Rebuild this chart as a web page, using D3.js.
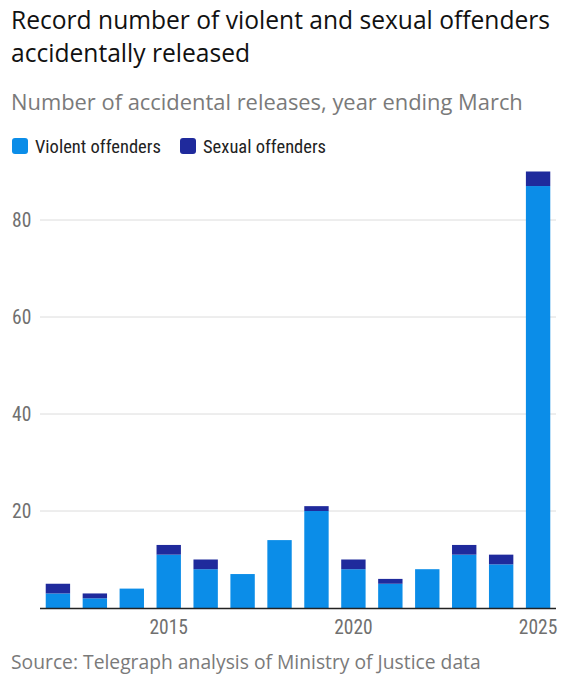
<!DOCTYPE html>
<html>
<head>
<meta charset="utf-8">
<script src="https://cdn.jsdelivr.net/npm/d3@7"></script>
<style>
  body { margin: 0; background: #fff; }
  .cond { font-family: "Roboto Condensed", "Liberation Sans Narrow", "DejaVu Sans Condensed", sans-serif; }
</style>
</head>
<body>
<div id="chart-area"></div>
<script>
const years = [2012, 2013, 2014, 2015, 2016, 2017, 2018, 2019, 2020, 2021, 2022, 2023, 2024, 2025];
const violent = [3, 2, 4, 11, 8, 7, 14, 20, 8, 5, 8, 11, 9, 87];
const sexual = [2, 1, 0, 2, 2, 0, 0, 1, 2, 1, 0, 2, 2, 3];
const yTicks = [20, 40, 60, 80];
const xTicks = [2015, 2020, 2025];

const colors = { violent: "#0b8de8", sexual: "#1f2a9c" };

const width = 570, height = 680;
const svg = d3.select("#chart-area")
  .append("svg")
  .attr("width", width)
  .attr("height", height);

// titles
const title = svg.append("text")
  .attr("x", 12)
  .attr("font-family", "Open Sans, sans-serif")
  .attr("font-size", 24.6)
  .attr("fill", "#111");
title.append("tspan").attr("x", 11).attr("y", 29).text("Record number of violent and sexual offenders");
title.append("tspan").attr("x", 11).attr("y", 62).text("accidentally released");

svg.append("text")
  .attr("x", 11).attr("y", 110)
  .attr("font-family", "Open Sans, sans-serif")
  .attr("font-size", 21.9)
  .attr("fill", "#7a7a7a")
  .text("Number of accidental releases, year ending March");

// legend
const legendItems = [
  { label: "Violent offenders", color: colors.violent, x: 12 },
  { label: "Sexual offenders", color: colors.sexual, x: 180 }
];
const legend = svg.selectAll(".legend").data(legendItems).enter()
  .append("g")
  .attr("transform", d => `translate(${d.x},138)`);
legend.append("rect")
  .attr("width", 16).attr("height", 16).attr("rx", 3)
  .attr("fill", d => d.color);
legend.append("text")
  .attr("class", "cond")
  .attr("x", 23).attr("y", 14.5)
  .attr("font-size", 18.5)
  .attr("fill", "#222")
  .text(d => d.label);

// scales
const margin = { left: 40, right: 14 };
const x = d3.scaleBand()
  .domain(years)
  .range([margin.left, width - margin.right])
  .paddingInner(0.34)
  .paddingOuter(0.155);

const y = d3.scaleLinear()
  .domain([0, 80])
  .range([608, 220]);

// gridlines
svg.append("g")
  .selectAll("line")
  .data(yTicks)
  .enter()
  .append("line")
  .attr("x1", margin.left)
  .attr("x2", width - margin.right)
  .attr("y1", d => y(d))
  .attr("y2", d => y(d))
  .attr("stroke", "#dcdcdc")
  .attr("stroke-width", 1);

svg.append("g")
  .selectAll("text")
  .data(yTicks)
  .enter()
  .append("text")
  .attr("class", "cond")
  .attr("x", 12)
  .attr("y", d => y(d) + 7)
  .attr("font-size", 19.5)
  .attr("fill", "#707070")
  .text(d => d);

// stacked bars
const rows = years.map((yr, i) => ({ year: yr, violent: violent[i], sexual: sexual[i] }));
const stack = d3.stack().keys(["violent", "sexual"])(rows);

svg.append("g")
  .selectAll("g")
  .data(stack)
  .enter()
  .append("g")
  .attr("fill", d => colors[d.key])
  .selectAll("rect")
  .data(d => d)
  .enter()
  .append("rect")
  .attr("x", d => x(d.data.year))
  .attr("width", x.bandwidth())
  .attr("y", d => y(d[1]))
  .attr("height", d => y(d[0]) - y(d[1]));

// x axis
svg.append("line")
  .attr("x1", margin.left)
  .attr("x2", width - margin.right)
  .attr("y1", y(0) + 0.5)
  .attr("y2", y(0) + 0.5)
  .attr("stroke", "#222")
  .attr("stroke-width", 1.5);

svg.append("g")
  .selectAll("text")
  .data(xTicks)
  .enter()
  .append("text")
  .attr("class", "cond")
  .attr("x", d => x(d) + x.bandwidth() / 2)
  .attr("y", 634)
  .attr("text-anchor", "middle")
  .attr("font-size", 19.5)
  .attr("fill", "#707070")
  .text(d => d);

svg.append("text")
  .attr("x", 11).attr("y", 669)
  .attr("font-family", "Open Sans, sans-serif")
  .attr("font-size", 19.3)
  .attr("fill", "#7a7a7a")
  .text("Source: Telegraph analysis of Ministry of Justice data");
</script>
</body>
</html>
